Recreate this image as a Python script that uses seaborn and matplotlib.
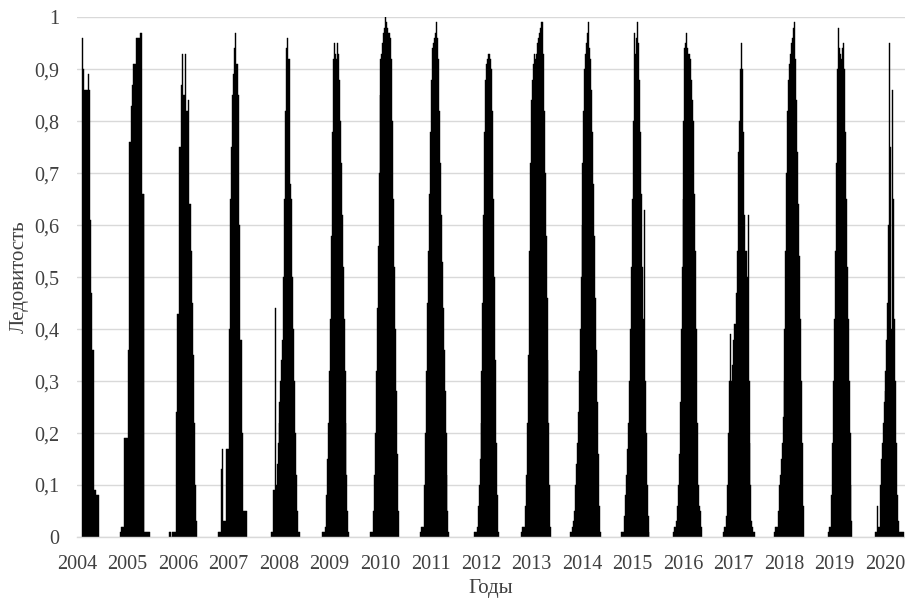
import matplotlib
matplotlib.use("Agg")
import pandas as pd
import matplotlib.pyplot as plt
import seaborn as sns


# --- DATA (one value per week) ---
years = list(range(2004, 2021))

# week of the first record of each ice season, counted from 1 January of its year
start_week = [6, -7, -9, -10, -8, -7, -10, -10, -7, -10, -12, -11, -10, -10, -10, -6, -10]

ice_2004 = [0.96, 0.90, 0.86, 0.86, 0.86, 0.86, 0.89, 0.86, 0.61, 0.47, 0.36, 0.36,
            0.09, 0.09, 0.08, 0.08, 0.08]
ice_2005 = [0.01, 0.02, 0.02, 0.02, 0.19, 0.19, 0.19, 0.19, 0.36, 0.76, 0.76, 0.83,
            0.87, 0.91, 0.91, 0.91, 0.96, 0.96, 0.96, 0.96, 0.97, 0.97, 0.66, 0.66,
            0.66, 0.01, 0.01, 0.01, 0.01, 0.01, 0.01]
ice_2006 = [0.01, 0.01, 0.0, 0.01, 0.01, 0.01, 0.01, 0.24, 0.43, 0.43, 0.43, 0.75,
            0.75, 0.87, 0.93, 0.85, 0.85, 0.93, 0.82, 0.82, 0.84, 0.64, 0.64, 0.55,
            0.45, 0.35, 0.22, 0.10, 0.03]
ice_2007 = [0.01, 0.01, 0.01, 0.13, 0.17, 0.03, 0.03, 0.03, 0.17, 0.17, 0.17, 0.40,
            0.65, 0.75, 0.85, 0.89, 0.94, 0.97, 0.91, 0.91, 0.85, 0.60, 0.38, 0.38,
            0.20, 0.05, 0.05, 0.05, 0.05, 0.05]
ice_2008 = [0.01, 0.01, 0.09, 0.09, 0.44, 0.10, 0.14, 0.18, 0.22, 0.26, 0.30, 0.34,
            0.38, 0.50, 0.65, 0.82, 0.94, 0.96, 0.92, 0.92, 0.68, 0.65, 0.50, 0.40,
            0.30, 0.20, 0.12, 0.05, 0.01, 0.01]
ice_2009 = [0.01, 0.01, 0.01, 0.02, 0.08, 0.15, 0.22, 0.32, 0.42, 0.58, 0.78, 0.92,
            0.95, 0.93, 0.92, 0.95, 0.93, 0.88, 0.80, 0.72, 0.62, 0.52, 0.42, 0.32,
            0.22, 0.12, 0.05, 0.01]
ice_2010 = [0.01, 0.01, 0.01, 0.05, 0.12, 0.20, 0.32, 0.44, 0.56, 0.70, 0.85, 0.92,
            0.93, 0.95, 0.97, 0.98, 1.0, 0.99, 0.98, 0.97, 0.97, 0.96, 0.92, 0.80,
            0.65, 0.52, 0.40, 0.28, 0.16, 0.05]
ice_2011 = [0.01, 0.02, 0.02, 0.02, 0.10, 0.20, 0.32, 0.45, 0.55, 0.66, 0.78, 0.88,
            0.94, 0.95, 0.96, 0.97, 0.99, 0.96, 0.92, 0.82, 0.72, 0.62, 0.53, 0.44,
            0.36, 0.28, 0.20, 0.12, 0.05, 0.01]
ice_2012 = [0.01, 0.01, 0.01, 0.02, 0.06, 0.10, 0.15, 0.22, 0.32, 0.45, 0.62, 0.78,
            0.88, 0.91, 0.92, 0.93, 0.93, 0.92, 0.90, 0.82, 0.65, 0.50, 0.34, 0.18,
            0.08, 0.01]
ice_2013 = [0.01, 0.02, 0.02, 0.02, 0.06, 0.12, 0.22, 0.35, 0.55, 0.72, 0.84, 0.88,
            0.91, 0.93, 0.92, 0.93, 0.95, 0.96, 0.97, 0.98, 0.99, 0.99, 0.93, 0.82,
            0.70, 0.58, 0.46, 0.34, 0.22, 0.10, 0.02]
ice_2014 = [0.01, 0.01, 0.02, 0.03, 0.05, 0.10, 0.14, 0.18, 0.24, 0.32, 0.40, 0.50,
            0.60, 0.72, 0.82, 0.90, 0.93, 0.95, 0.97, 0.99, 0.94, 0.92, 0.86, 0.78,
            0.68, 0.58, 0.46, 0.36, 0.26, 0.16, 0.06, 0.01]
ice_2015 = [0.01, 0.01, 0.01, 0.04, 0.08, 0.12, 0.17, 0.22, 0.30, 0.40, 0.52, 0.65,
            0.80, 0.97, 0.93, 0.96, 0.99, 0.95, 0.88, 0.78, 0.66, 0.52, 0.42, 0.63,
            0.30, 0.20, 0.10, 0.04, 0.01]
ice_2016 = [0.01, 0.02, 0.02, 0.03, 0.06, 0.10, 0.16, 0.26, 0.40, 0.52, 0.65, 0.80,
            0.94, 0.95, 0.97, 0.94, 0.93, 0.93, 0.92, 0.88, 0.84, 0.80, 0.66, 0.55,
            0.40, 0.22, 0.10, 0.06, 0.05, 0.02]
ice_2017 = [0.01, 0.02, 0.02, 0.04, 0.10, 0.20, 0.30, 0.39, 0.30, 0.33, 0.38, 0.41,
            0.41, 0.47, 0.55, 0.74, 0.80, 0.90, 0.95, 0.90, 0.78, 0.62, 0.55, 0.55,
            0.50, 0.62, 0.30, 0.18, 0.10, 0.03, 0.02, 0.01, 0.01]
ice_2018 = [0.01, 0.02, 0.02, 0.02, 0.05, 0.10, 0.12, 0.15, 0.18, 0.23, 0.30, 0.40,
            0.55, 0.70, 0.82, 0.88, 0.91, 0.93, 0.95, 0.96, 0.98, 0.99, 0.92, 0.84,
            0.74, 0.64, 0.54, 0.42, 0.30, 0.18, 0.06]
ice_2019 = [0.01, 0.02, 0.02, 0.08, 0.18, 0.30, 0.42, 0.55, 0.72, 0.90, 0.98, 0.94,
            0.93, 0.92, 0.94, 0.95, 0.90, 0.78, 0.65, 0.52, 0.42, 0.30, 0.20, 0.10,
            0.03]
ice_2020 = [0.01, 0.01, 0.06, 0.02, 0.02, 0.10, 0.15, 0.18, 0.22, 0.26, 0.28, 0.32,
            0.38, 0.45, 0.60, 0.95, 0.75, 0.40, 0.86, 0.65, 0.42, 0.30, 0.18, 0.08,
            0.03, 0.01, 0.01, 0.01, 0.01, 0.01]

seasons = [ice_2004, ice_2005, ice_2006, ice_2007, ice_2008, ice_2009, ice_2010,
           ice_2011, ice_2012, ice_2013, ice_2014, ice_2015, ice_2016, ice_2017,
           ice_2018, ice_2019, ice_2020]

y_ticks = [0, 0.1, 0.2, 0.3, 0.4, 0.5, 0.6, 0.7, 0.8, 0.9, 1.0]
y_tick_labels = ["0", "0,1", "0,2", "0,3", "0,4", "0,5", "0,6", "0,7", "0,8", "0,9", "1"]
x_tick_labels = [str(y) for y in years]


# --- BUILD LONG TABLE ---
rows = []
for year, week0, values in zip(years, start_week, seasons):
    for i, v in enumerate(values):
        rows.append({"date": year + (week0 + i) / 52, "ice": v})
df = pd.DataFrame(rows)


# --- PLOT ---
sns.set_theme(style="white")
plt.rcParams["font.family"] = ["Liberation Serif", "DejaVu Serif"]
text_color = "#404040"
grid_color = "#d9d9d9"

fig = plt.figure(figsize=(9.05, 5.99), dpi=100)
ax = fig.add_axes([77 / 905, 62 / 599, 828 / 905, 519.7 / 599])

sns.barplot(data=df, x="date", y="ice", native_scale=True, color="black",
            saturation=1, width=1.0, errorbar=None, edgecolor="black",
            linewidth=0.3, ax=ax)

ax.set_axisbelow(True)
ax.yaxis.grid(True, color=grid_color, linewidth=1.0)
ax.xaxis.grid(False)

ax.set_ylim(0, 1)
ax.set_xlim(2004, 2004 + 828 / 50.5)
ax.set_yticks(y_ticks)
ax.set_yticklabels(y_tick_labels)
ax.set_xticks(years)
ax.set_xticklabels(x_tick_labels)
ax.tick_params(axis="both", length=0, labelsize=14.5, colors=text_color)
ax.tick_params(axis="y", pad=13)
ax.tick_params(axis="x", pad=13)

for side in ["left", "right", "top"]:
    ax.spines[side].set_visible(False)
ax.spines["bottom"].set_color(grid_color)
ax.spines["bottom"].set_linewidth(1.0)

ax.set_xlabel("Годы", fontsize=15, color=text_color)
ax.set_ylabel("Ледовитость", fontsize=15, color=text_color)
# kept a little above the bottom edge so the descender of "д" is not clipped
ax.xaxis.set_label_coords(0.5, -0.081)
ax.yaxis.set_label_coords(-0.058, 0.5)

fig.savefig("out.png", dpi=100)
